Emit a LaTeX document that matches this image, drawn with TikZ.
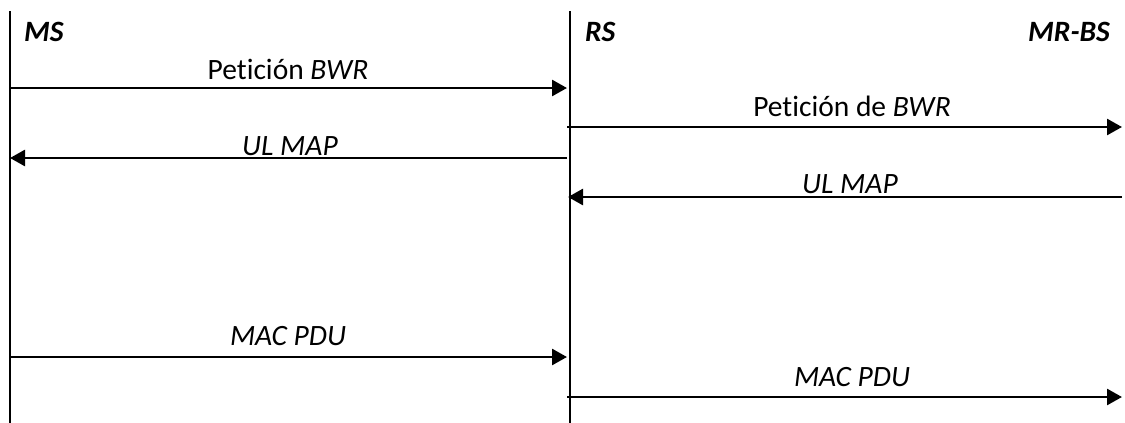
\documentclass[tikz,border=0pt]{standalone}
\usepackage{fontspec}
\setmainfont{Carlito}[Ligatures=NoCommon]
\usetikzlibrary{arrows.meta,positioning}

\begin{document}
\begin{tikzpicture}[
    x=1pt, y=-1pt,
    >={Triangle[length=15pt,width=16pt]},
    lifeline/.style={line width=2.7pt},
    msg/.style={->, line width=2.7pt},
    actor/.style={font=\fontsize{29.5}{32}\selectfont\bfseries\itshape, inner sep=0pt},
    lbl/.style={font=\fontsize{29.5}{32}\selectfont, anchor=base, inner sep=0pt}
  ]
    \useasboundingbox (0,0) rectangle (1125,423);

    % Lifelines
    \coordinate (msTop) at (10,11);
    \coordinate (msBot) at (10,423);
    \coordinate (rsTop) at (570,11);
    \coordinate (rsBot) at (570,423);
    \draw[lifeline] (msTop) -- (msBot);
    \draw[lifeline] (rsTop) -- (rsBot);

    % Nodes
    \node[actor, anchor=base west] (ms) at (24,41) {MS};
    \node[actor, anchor=base west] (rs) at (585,41) {RS};
    \node[actor, anchor=base east] (mrbs) at (1110,41) {MR-BS};

    \node[lbl] (req1) at (288,79) {Petición \textit{BWR}};
    \node[lbl] (req2) at (852,116) {Petición de \textit{BWR}};
    \node[lbl] (map1) at (290,155) {\textit{UL MAP}};
    \node[lbl] (map2) at (850,193) {\textit{UL MAP}};
    \node[lbl] (pdu1) at (288,345) {\textit{MAC PDU}};
    \node[lbl] (pdu2) at (852,386) {\textit{MAC PDU}};

    % Arrow ends
    \coordinate (a1) at (10,88);   \coordinate (b1) at (567,88);
    \coordinate (a2) at (567,127); \coordinate (b2) at (1122,127);
    \coordinate (a3) at (567,158); \coordinate (b3) at (10,158);
    \coordinate (a4) at (1122,197); \coordinate (b4) at (568,197);
    \coordinate (a5) at (10,357);  \coordinate (b5) at (567,357);
    \coordinate (a6) at (567,397); \coordinate (b6) at (1122,397);

    % Arrows
    \draw[msg] (a1) -- (b1);
    \draw[msg] (a2) -- (b2);
    \draw[msg] (a3) -- (b3);
    \draw[msg] (a4) -- (b4);
    \draw[msg] (a5) -- (b5);
    \draw[msg] (a6) -- (b6);
  \end{tikzpicture}
\end{document}
